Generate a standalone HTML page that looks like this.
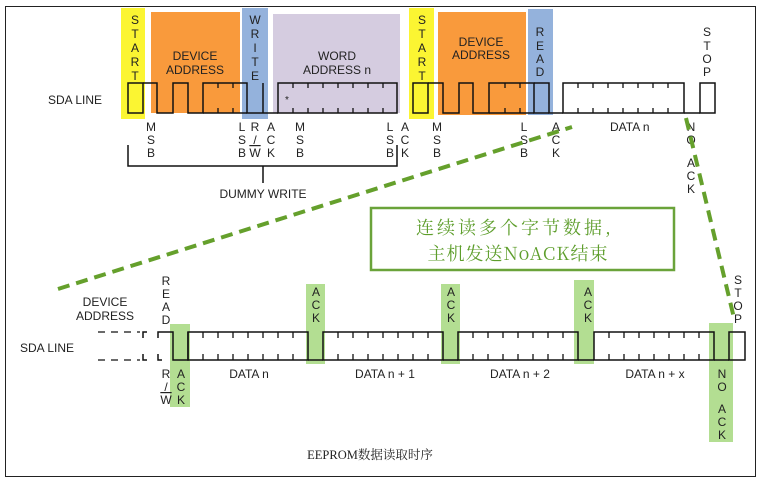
<!DOCTYPE html>
<html><head><meta charset="utf-8"><style>
html,body{margin:0;padding:0;background:#fff;}
svg{display:block;}
text{font-family:"Liberation Sans",sans-serif;font-size:12px;fill:#222;}
.v{text-anchor:middle;}
</style></head><body>
<svg width="760" height="482" viewBox="0 0 760 482" xmlns="http://www.w3.org/2000/svg">
<rect x="5.5" y="6.5" width="750" height="470" fill="#fff" stroke="#222" stroke-width="1"/>
<rect x="121" y="8" width="24" height="111" fill="#fbf532"/>
<rect x="151" y="12" width="89" height="101" fill="#f99a3c"/>
<rect x="242" y="8" width="26" height="111" fill="#94b2dc"/>
<rect x="273" y="14" width="127" height="99" fill="#d5cce0"/>
<rect x="409" y="8" width="25" height="111" fill="#fbf532"/>
<rect x="438" y="12" width="88" height="103" fill="#f99a3c"/>
<rect x="528" y="9" width="25" height="106" fill="#94b2dc"/>
<g fill="none" stroke="#111" stroke-width="1.5">
<rect x="128" y="83" width="15" height="30"/>
<polyline points="143,83 157,83 157,113 173,113 173,83 188,83 188,113 203,113 203,83 247,83 247,113 278,113"/>
<line x1="203" y1="113" x2="247" y2="113"/>
<line x1="263" y1="83" x2="263" y2="113"/>
<rect x="278" y="83" width="119" height="30"/>
<rect x="413" y="83" width="15" height="30"/>
<polyline points="428,83 443,83 443,113 459,113 459,83 473,83 473,113 489,113 489,83 534,83 534,113 549,113"/>
<line x1="489" y1="113" x2="534" y2="113"/>
<polyline points="534,83 549,83 549,113 563,113"/>
<rect x="563" y="83" width="121" height="30"/>
<polyline points="684,113 700,113"/>
<rect x="700" y="83" width="15" height="30"/>
<polyline points="128,145 128,166 397,166 397,145"/>
<line x1="263" y1="166" x2="263" y2="183"/>
</g>
<g stroke="#111" stroke-width="1.3">
<path d="M218 83v5M218 108v5M233 83v5M233 108v5M505 83v5M505 108v5M520 83v5M520 108v5
M293 83v5M293 108v5M308 83v5M308 108v5M323 83v5M323 108v5M338 83v5M338 108v5M353 83v5M353 108v5M368 83v5M368 108v5M383 83v5M383 108v5
M578 83v5M578 108v5M593 83v5M593 108v5M608 83v5M608 108v5M623 83v5M623 108v5M638 83v5M638 108v5M653 83v5M653 108v5M668 83v5M668 108v5"/>
</g>
<text x="48" y="104">SDA LINE</text>
<text x="195" y="60" class="v">DEVICE</text><text x="195" y="74" class="v">ADDRESS</text>
<text x="337" y="60" class="v">WORD</text><text x="337" y="74" class="v">ADDRESS n</text>
<text x="481" y="46" class="v">DEVICE</text><text x="481" y="59" class="v">ADDRESS</text>
<text x="285" y="103" style="font-size:10px">*</text>
<text x="610" y="131">DATA n</text>
<text x="263" y="198" class="v">DUMMY WRITE</text>
<g>
<text x="135" y="24" class="v">S</text><text x="135" y="38" class="v">T</text><text x="135" y="52" class="v">A</text><text x="135" y="66" class="v">R</text><text x="135" y="80" class="v">T</text>
<text x="255" y="24" class="v">W</text><text x="255" y="38" class="v">R</text><text x="255" y="52" class="v">I</text><text x="255" y="66" class="v">T</text><text x="255" y="80" class="v">E</text>
<text x="422" y="24" class="v">S</text><text x="422" y="38" class="v">T</text><text x="422" y="52" class="v">A</text><text x="422" y="66" class="v">R</text><text x="422" y="80" class="v">T</text>
<text x="540" y="36" class="v">R</text><text x="540" y="50" class="v">E</text><text x="540" y="63" class="v">A</text><text x="540" y="76" class="v">D</text>
<text x="707" y="36" class="v">S</text><text x="707" y="50" class="v">T</text><text x="707" y="63" class="v">O</text><text x="707" y="76" class="v">P</text>
<text x="151" y="131" class="v">M</text><text x="151" y="144" class="v">S</text><text x="151" y="157" class="v">B</text>
<text x="242" y="131" class="v">L</text><text x="242" y="144" class="v">S</text><text x="242" y="157" class="v">B</text>
<text x="255" y="131" class="v">R</text><text x="255" y="144" class="v">/</text><text x="255" y="157" class="v" text-decoration="overline">W</text>
<text x="271" y="131" class="v">A</text><text x="271" y="144" class="v">C</text><text x="271" y="157" class="v">K</text>
<text x="300" y="131" class="v">M</text><text x="300" y="144" class="v">S</text><text x="300" y="157" class="v">B</text>
<text x="390" y="131" class="v">L</text><text x="390" y="144" class="v">S</text><text x="390" y="157" class="v">B</text>
<text x="405" y="131" class="v">A</text><text x="405" y="144" class="v">C</text><text x="405" y="157" class="v">K</text>
<text x="437" y="131" class="v">M</text><text x="437" y="144" class="v">S</text><text x="437" y="157" class="v">B</text>
<text x="524" y="131" class="v">L</text><text x="524" y="144" class="v">S</text><text x="524" y="157" class="v">B</text>
<text x="556" y="131" class="v">A</text><text x="556" y="144" class="v">C</text><text x="556" y="157" class="v">K</text>
<text x="691" y="131" class="v">N</text><text x="691" y="144" class="v">O</text><text x="691" y="167" class="v">A</text><text x="691" y="180" class="v">C</text><text x="691" y="193" class="v">K</text>
</g>
<rect x="371" y="208" width="303" height="62" fill="#fff" stroke="#6aa33a" stroke-width="2.5"/>
<text x="515" y="234" text-anchor="middle" style="font-family:'Noto Serif CJK SC',serif;font-size:18px;fill:#5e9e2c;letter-spacing:3px">连续读多个字节数据,</text>
<text x="518" y="260" text-anchor="middle" style="font-family:'Noto Serif CJK SC',serif;font-size:18px;fill:#5e9e2c;letter-spacing:1px">主机发送NoACK结束</text>
<g stroke="#65a02c" stroke-width="4" stroke-dasharray="12,7" fill="none">
<line x1="58" y1="289" x2="572" y2="127"/>
<line x1="686" y1="118" x2="734" y2="318"/>
</g>
<rect x="170" y="324" width="20" height="83" fill="#b3de92"/>
<rect x="306" y="284" width="19" height="80" fill="#b3de92"/>
<rect x="441" y="284" width="19" height="80" fill="#b3de92"/>
<rect x="574" y="280" width="20" height="84" fill="#b3de92"/>
<rect x="709" y="323" width="24" height="119" fill="#b3de92"/>
<g fill="none" stroke="#111" stroke-width="1.5">
<line x1="98" y1="332" x2="140" y2="332" stroke-dasharray="7,6" stroke-width="1.2"/>
<line x1="98" y1="360" x2="140" y2="360" stroke-dasharray="7,6" stroke-width="1.2"/>
<polyline points="143,338 143,332 147,332"/><polyline points="143,354 143,360 147,360"/>
<polyline points="158,338 158,332 173,332 173,360 188,360 188,332"/>
<polyline points="158,354 158,360 162,360"/>
<rect x="188" y="332" width="120" height="28"/>
<polyline points="308,360 323,360"/>
<rect x="323" y="332" width="120" height="28"/>
<polyline points="443,360 458,360"/>
<rect x="458" y="332" width="120" height="28"/>
<polyline points="578,360 594,360"/>
<rect x="594" y="332" width="120" height="28"/>
<polyline points="714,360 729,360"/>
<rect x="729" y="332" width="16" height="28"/>
</g>
<g stroke="#111" stroke-width="1.3">
<path d="M203 332v6M218 332v6M233 332v6M248 332v6M263 332v6M278 332v6M293 332v6M203 354v6M218 354v6M233 354v6M248 354v6M263 354v6M278 354v6M293 354v6
M338 332v6M353 332v6M368 332v6M383 332v6M398 332v6M413 332v6M428 332v6M338 354v6M353 354v6M368 354v6M383 354v6M398 354v6M413 354v6M428 354v6
M473 332v6M488 332v6M503 332v6M518 332v6M533 332v6M548 332v6M563 332v6M473 354v6M488 354v6M503 354v6M518 354v6M533 354v6M548 354v6M563 354v6
M609 332v6M624 332v6M639 332v6M654 332v6M669 332v6M684 332v6M699 332v6M609 354v6M624 354v6M639 354v6M654 354v6M669 354v6M684 354v6M699 354v6"/>
</g>
<text x="20" y="352">SDA LINE</text>
<text x="105" y="306" class="v">DEVICE</text><text x="105" y="320" class="v">ADDRESS</text>
<text x="249" y="378" class="v">DATA n</text>
<text x="385" y="378" class="v">DATA n + 1</text>
<text x="520" y="378" class="v">DATA n + 2</text>
<text x="655" y="378" class="v">DATA n + x</text>
<g>
<text x="166" y="285" class="v">R</text><text x="166" y="298" class="v">E</text><text x="166" y="311" class="v">A</text><text x="166" y="324" class="v">D</text>
<text x="166" y="378" class="v">R</text><text x="166" y="391" class="v">/</text><text x="166" y="404" class="v" text-decoration="overline">W</text>
<text x="181" y="378" class="v">A</text><text x="181" y="391" class="v">C</text><text x="181" y="404" class="v">K</text>
<text x="316" y="296" class="v">A</text><text x="316" y="309" class="v">C</text><text x="316" y="322" class="v">K</text>
<text x="451" y="296" class="v">A</text><text x="451" y="309" class="v">C</text><text x="451" y="322" class="v">K</text>
<text x="588" y="296" class="v">A</text><text x="588" y="309" class="v">C</text><text x="588" y="322" class="v">K</text>
<text x="738" y="284" class="v">S</text><text x="738" y="297" class="v">T</text><text x="738" y="310" class="v">O</text><text x="738" y="323" class="v">P</text>
<text x="722" y="378" class="v">N</text><text x="722" y="391" class="v">O</text><text x="722" y="413" class="v">A</text><text x="722" y="426" class="v">C</text><text x="722" y="439" class="v">K</text>
</g>
<text x="370" y="459" text-anchor="middle" style="font-family:'Liberation Serif','Noto Serif CJK SC',serif;font-size:12.5px">EEPROM数据读取时序</text>
</svg>
</body></html>
